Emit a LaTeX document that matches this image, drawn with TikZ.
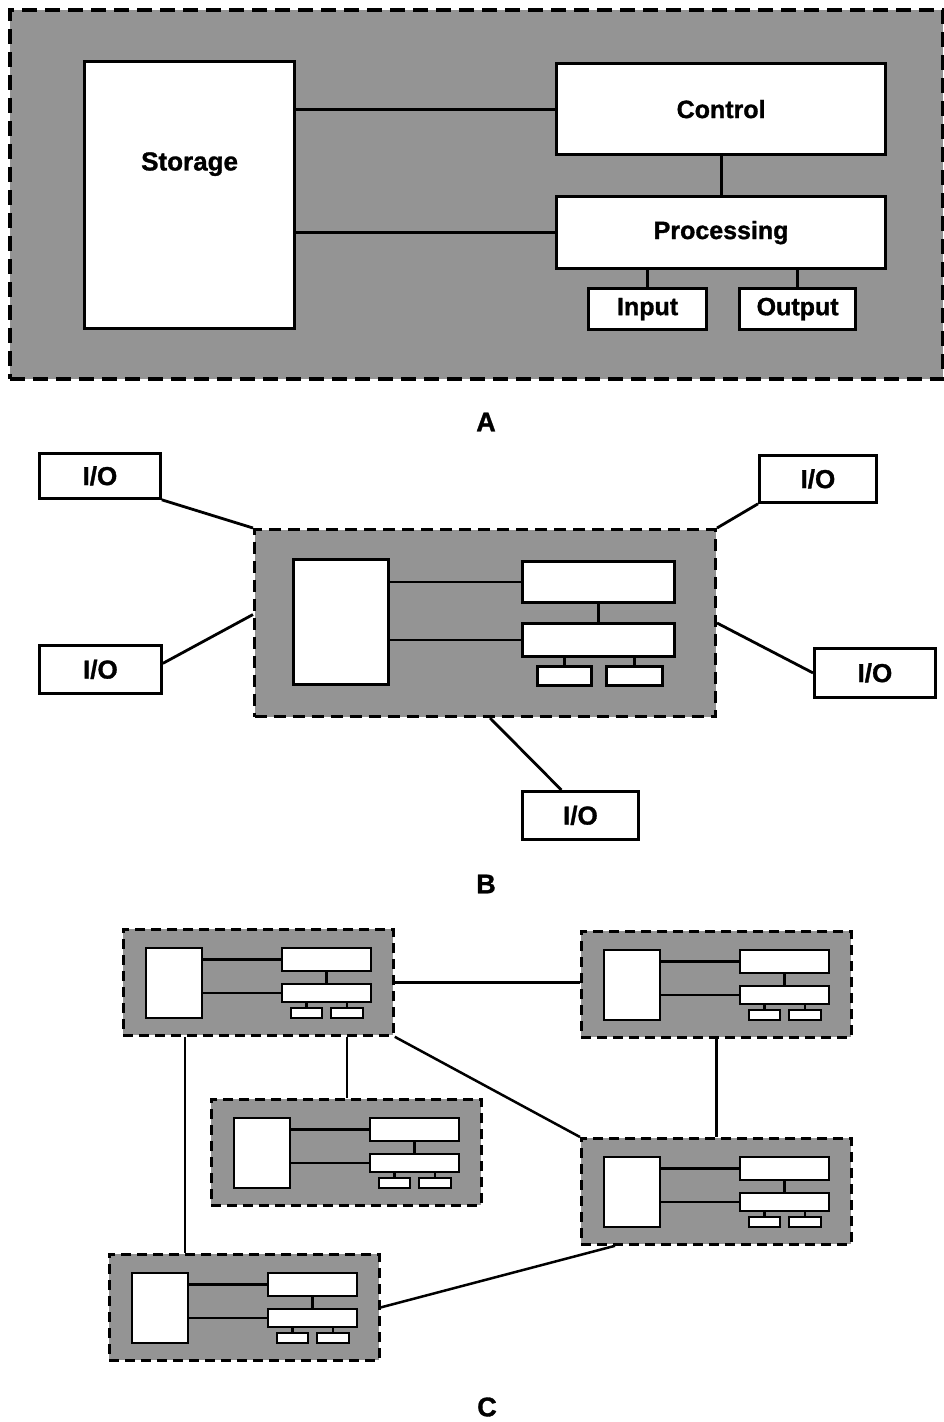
\documentclass[tikz,border=0pt]{standalone}
\usepackage{fontspec}
\setmainfont{Liberation Sans}[BoldFeatures={FakeBold=1.2}]
\usetikzlibrary{calc}
\definecolor{shade}{gray}{0.58}
\tikzset{
  boxA/.style={draw, fill=white, line width=3.2pt, inner sep=0pt, font=\fontsize{25}{30}\selectfont\bfseries},
  boxB/.style={draw, fill=white, line width=2.8pt, inner sep=0pt},
  boxC/.style={draw, fill=white, line width=2.4pt, inner sep=0pt},
  iobox/.style={draw, fill=white, line width=2.8pt, inner sep=0pt, font=\fontsize{26}{30}\selectfont\bfseries},
  panelA/.style={draw, fill=shade, line width=3.5pt, dash pattern=on 15pt off 8pt, inner sep=0pt},
  panelB/.style={draw, fill=shade, line width=3pt, dash pattern=on 12pt off 7pt, inner sep=0pt},
  panelC/.style={draw, fill=shade, line width=2.8pt, dash pattern=on 10pt off 6pt, inner sep=0pt},
  linkA/.style={line width=3pt},
  linkB/.style={line width=2.8pt},
  linkC/.style={line width=2.5pt},
  txtA/.style={font=\fontsize{26}{30}\selectfont\bfseries},
  tag/.style={font=\fontsize{27}{30}\selectfont\bfseries, inner sep=0pt}
}
% style, name, x, y, width, height, text
\newcommand\rbox[7]{\node[#1, anchor=north west, minimum width={#5}, minimum height={#6}] (#2) at ({#3},{#4}) {#7};}
\newcommand\cmod[3]{%
  \rbox{panelC}{#1}{#2}{#3}{270}{106}{}
  \rbox{boxC}{#1s}{#2+23}{#3+19}{56}{70}{}
  \rbox{boxC}{#1c}{#2+159}{#3+19}{89}{23}{}
  \rbox{boxC}{#1p}{#2+159}{#3+55}{89}{18}{}
  \rbox{boxC}{#1i}{#2+168}{#3+79}{31}{10}{}
  \rbox{boxC}{#1o}{#2+208}{#3+79}{32}{10}{}
  \draw[linkC] (#1c.west) -- (#1c.west -| #1s.east);
  \draw[linkC] (#1p.west) -- (#1p.west -| #1s.east);
  \draw[linkC] (#1c.south) -- (#1p.north);
  \draw[linkC] (#1i.north) -- (#1i.north |- #1p.south);
  \draw[linkC] (#1o.north) -- (#1o.north |- #1p.south);
}
\begin{document}
\begin{tikzpicture}[x=1pt,y=-1pt]
\useasboundingbox (0,0) rectangle (944,1422);
% ---------- Panel A ----------
\rbox{panelA}{pa}{8}{8}{933}{369}{}
\rbox{boxA, label={[txtA, yshift=31pt]center:Storage}}{ast}{83}{60}{210}{267}{}
\rbox{boxA}{actl}{555}{62}{329}{91}{Control}
\rbox{boxA}{aproc}{555}{195}{329}{72}{Processing}
\rbox{boxA}{ain}{587}{287}{118}{41}{Input}
\rbox{boxA}{aout}{738}{287}{116}{41}{Output}
\draw[linkA] (actl.west) -- (actl.west -| ast.east);
\draw[linkA] (aproc.west) -- (aproc.west -| ast.east);
\draw[linkA] (actl.south) -- (aproc.north);
\draw[linkA] (ain.north) -- (ain.north |- aproc.south);
\draw[linkA] (aout.north) -- (aout.north |- aproc.south);
\node[tag] (labA) at (486,422) {A};
% ---------- Panel B ----------
\rbox{panelB}{pb}{253}{528}{461}{187}{}
\rbox{boxB}{bst}{292}{558}{95}{125}{}
\rbox{boxB}{bctl}{521}{560}{152}{41}{}
\rbox{boxB}{bproc}{521}{622}{152}{33}{}
\rbox{boxB}{bin}{536}{665}{54}{19}{}
\rbox{boxB}{bout}{605}{665}{56}{19}{}
\draw[linkB] (bctl.west) -- (bctl.west -| bst.east);
\draw[linkB] (bproc.west) -- (bproc.west -| bst.east);
\draw[linkB] (bctl.south) -- (bproc.north);
\draw[linkB] (bin.north) -- (bin.north |- bproc.south);
\draw[linkB] (bout.north) -- (bout.north |- bproc.south);
\rbox{iobox}{io1}{38}{452}{121}{45}{I/O}
\rbox{iobox}{io2}{758}{454}{117}{47}{I/O}
\rbox{iobox}{io3}{38}{644}{122}{48}{I/O}
\rbox{iobox}{io4}{813}{647}{121}{49}{I/O}
\rbox{iobox}{io5}{521}{790}{116}{48}{I/O}
\draw[linkB] (io1.south east) -- (pb.north west);
\draw[linkB] (io2.south west) -- (pb.north east);
\draw[linkB] ([yshift=6pt]io3.east) -- ([yshift=8.5pt]pb.west);
\draw[linkB] (io4.west) -- (pb.east);
\draw[linkB] ([xshift=-19pt]io5.north) -- ([xshift=5pt]pb.south);
\node[tag] (labB) at (486,884) {B};
% ---------- Panel C ----------
\cmod{m1}{122}{928}
\cmod{m2}{580}{930}
\cmod{m3}{210}{1098}
\cmod{m4}{580}{1137}
\cmod{m5}{108}{1253}
\draw[linkC] (m1.east) -- (m1.east -| m2.west);
\draw[linkC] ([xshift=63pt]m1.south west) -- ([xshift=63pt]m1.south west |- m5.north);
\draw[linkC] ([xshift=225pt]m1.south west) -- ([xshift=225pt]m1.south west |- m3.north);
\draw[linkC] (m1.south east) -- (m4.north west);
\draw[linkC] (m2.south) -- (m4.north);
\draw[linkC] (m5.east) -- ([xshift=35pt]m4.south west);
\node[tag] (labC) at (487,1407) {C};
\end{tikzpicture}
\end{document}
